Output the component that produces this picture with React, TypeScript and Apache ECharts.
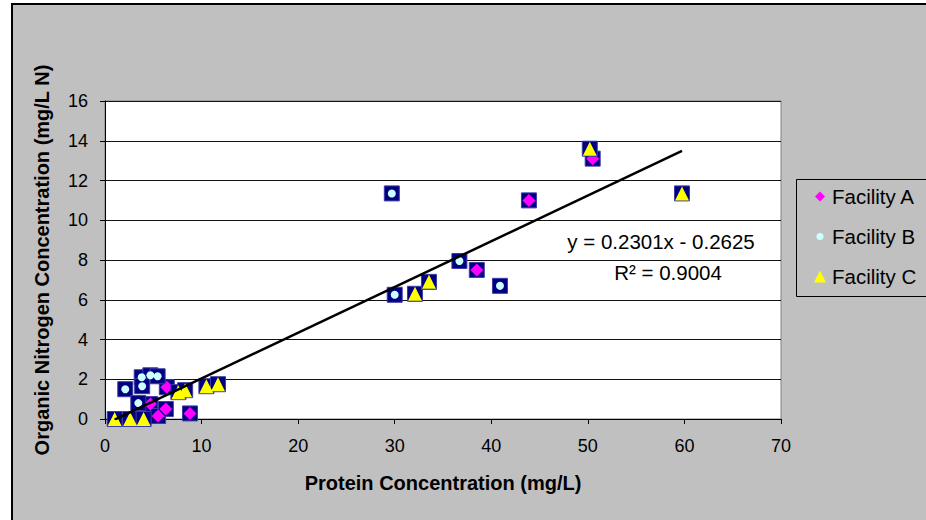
import React, { useEffect, useRef } from "react";
import * as echarts from "echarts";

// Protein (mg/L) vs organic nitrogen (mg/L N)
const facilityA: [number, number][] = [
  [3.6, 0.2], [4.7, 0.75], [5.5, 0.15], [6.3, 0.5], [6.4, 1.6], [8.8, 0.28],
  [38.5, 7.5], [43.9, 11.0], [50.5, 13.1],
];
const facilityB: [number, number][] = [
  [2.1, 1.5], [3.8, 2.1], [4.7, 2.2], [5.45, 2.15], [3.85, 1.65], [3.45, 0.8],
  [29.7, 11.35], [30.0, 6.25], [36.7, 7.95], [40.9, 6.7],
];
const facilityC: [number, number][] = [
  [1.0, 0.0], [2.6, 0.0], [4.0, 0.0], [7.6, 1.35], [8.3, 1.45], [10.5, 1.65],
  [11.7, 1.75], [32.1, 6.3], [33.55, 6.9], [50.2, 13.6], [59.75, 11.35],
];
const seriesNames = ["Facility A", "Facility B", "Facility C"];
const trendSlope = 0.2301;
const trendIntercept = -0.2625;
const trendR2 = 0.9004;
const xRange = [0, 70, 10];
const yRange = [0, 16, 2];

const FONT = "'Liberation Sans', Arial, Helvetica, sans-serif";

const diamondIcon = "path://M0,0L0,0M14,14L14,14M7,2L12,7L7,12L2,7Z";
const circleIcon = "path://M0,0L0,0M14,14L14,14M3.5,7A3.5,3.5 0 1,0 10.5,7A3.5,3.5 0 1,0 3.5,7Z";
const triangleIcon = "path://M0,0L0,0M14,14L14,14M7,1L13,13L1,13Z";

export default function App() {
  const ref = useRef<HTMLDivElement>(null);
  useEffect(() => {
    const chart = echarts.init(ref.current!, null, { renderer: "svg" });
    const all = [...facilityA, ...facilityB, ...facilityC];
    const xs = all.map((p) => p[0]);
    const x0 = Math.min(...xs);
    const x1 = Math.max(...xs);
    const trend = [
      [x0, trendSlope * x0 + trendIntercept],
      [x1, trendSlope * x1 + trendIntercept],
    ];
    const squares = (name: string, data: [number, number][]) => ({
      type: "scatter",
      name,
      data,
      symbol: "rect",
      symbolSize: 15,
      itemStyle: { color: "#000080", borderColor: "#3c3ca8", borderWidth: 1, opacity: 1 },
      silent: true,
      emphasis: { disabled: true },
    });
    const eq = `y = ${trendSlope}x ${trendIntercept < 0 ? "-" : "+"} ${Math.abs(trendIntercept)}`;
    chart.setOption({
      animation: false,
      backgroundColor: "transparent",
      textStyle: { fontFamily: FONT },
      grid: {
        left: 105,
        top: 101,
        width: 676,
        height: 318,
        show: true,
        backgroundColor: "#ffffff",
        borderColor: "#808080",
        borderWidth: 1,
        containLabel: false,
        outerBoundsMode: "none",
      },
      xAxis: {
        type: "value",
        min: xRange[0],
        max: xRange[1],
        interval: xRange[2],
        name: "Protein Concentration (mg/L)",
        nameLocation: "middle",
        nameGap: 54,
        nameMoveOverlap: false,
        nameTextStyle: { fontSize: 20, fontWeight: "bold", color: "#000", fontFamily: FONT },
        axisLine: { show: true, onZero: false, lineStyle: { color: "#000", width: 1 } },
        axisTick: { show: true, length: 5, lineStyle: { color: "#000", width: 1 } },
        axisLabel: { fontSize: 18, color: "#000", margin: 18, fontFamily: FONT },
        splitLine: { show: false },
      },
      yAxis: {
        type: "value",
        min: yRange[0],
        max: yRange[1],
        interval: yRange[2],
        name: "Organic Nitrogen Concentration (mg/L N)",
        nameLocation: "middle",
        nameGap: 53,
        nameMoveOverlap: false,
        nameTextStyle: { fontSize: 20, fontWeight: "bold", color: "#000", fontFamily: FONT },
        axisLine: { show: true, onZero: false, lineStyle: { color: "#000", width: 1 } },
        axisTick: { show: true, length: 5, lineStyle: { color: "#000", width: 1 } },
        axisLabel: { fontSize: 18, color: "#000", margin: 17, fontFamily: FONT },
        splitLine: { show: true, lineStyle: { color: "#111", width: 1 } },
      },
      legend: {
        data: [
          { name: seriesNames[0], icon: diamondIcon },
          { name: seriesNames[1], icon: circleIcon },
          { name: seriesNames[2], icon: triangleIcon },
        ],
        orient: "vertical",
        left: 813,
        top: 186,
        itemWidth: 14,
        itemHeight: 14,
        itemGap: 19,
        padding: 0,
        selectedMode: false,
        textStyle: { fontSize: 20.5, color: "#000", fontFamily: FONT, lineHeight: 20 },
      },
      graphic: [
        {
          type: "rect",
          z: -100,
          silent: true,
          shape: { x: 12, y: 4, width: 1000, height: 600 },
          style: { fill: "#C0C0C0", stroke: "#000", lineWidth: 2 },
        },
        {
          type: "rect",
          silent: true,
          shape: { x: 796.5, y: 179.5, width: 200, height: 117 },
          style: { fill: "none", stroke: "#000", lineWidth: 1 },
        },
        {
          type: "text",
          x: 661,
          y: 241,
          silent: true,
          style: { text: eq, fontSize: 20.5, fontFamily: FONT, fill: "#000", align: "center", verticalAlign: "middle" },
        },
        {
          type: "text",
          x: 668,
          y: 272,
          silent: true,
          style: { text: `R² = ${trendR2}`, fontSize: 20.5, fontFamily: FONT, fill: "#000", align: "center", verticalAlign: "middle" },
        },
      ],
      series: [
        squares("sqA", facilityA),
        {
          type: "scatter",
          name: seriesNames[0],
          data: facilityA,
          symbol: "diamond",
          symbolSize: 13,
          itemStyle: { color: "#FF00FF", opacity: 1 },
          silent: true,
          emphasis: { disabled: true },
        },
        squares("sqB", facilityB),
        {
          type: "scatter",
          name: seriesNames[1],
          data: facilityB,
          symbol: "circle",
          symbolSize: 8,
          itemStyle: { color: "#CCFFFF", opacity: 1 },
          silent: true,
          emphasis: { disabled: true },
        },
        squares("sqC", facilityC),
        {
          type: "scatter",
          name: seriesNames[2],
          data: facilityC,
          symbol: "triangle",
          symbolSize: 14,
          itemStyle: { color: "#FFFF00", opacity: 1 },
          silent: true,
          emphasis: { disabled: true },
        },
        {
          type: "line",
          name: "trend",
          data: trend,
          symbol: "none",
          silent: true,
          lineStyle: { color: "#000", width: 2.5 },
          emphasis: { disabled: true },
        },
      ],
    });
    return () => chart.dispose();
  }, []);
  return (
    <div
      ref={ref}
      style={{ position: "absolute", left: 0, top: 0, width: 926, height: 520, background: "#fff" }}
    />
  );
}
